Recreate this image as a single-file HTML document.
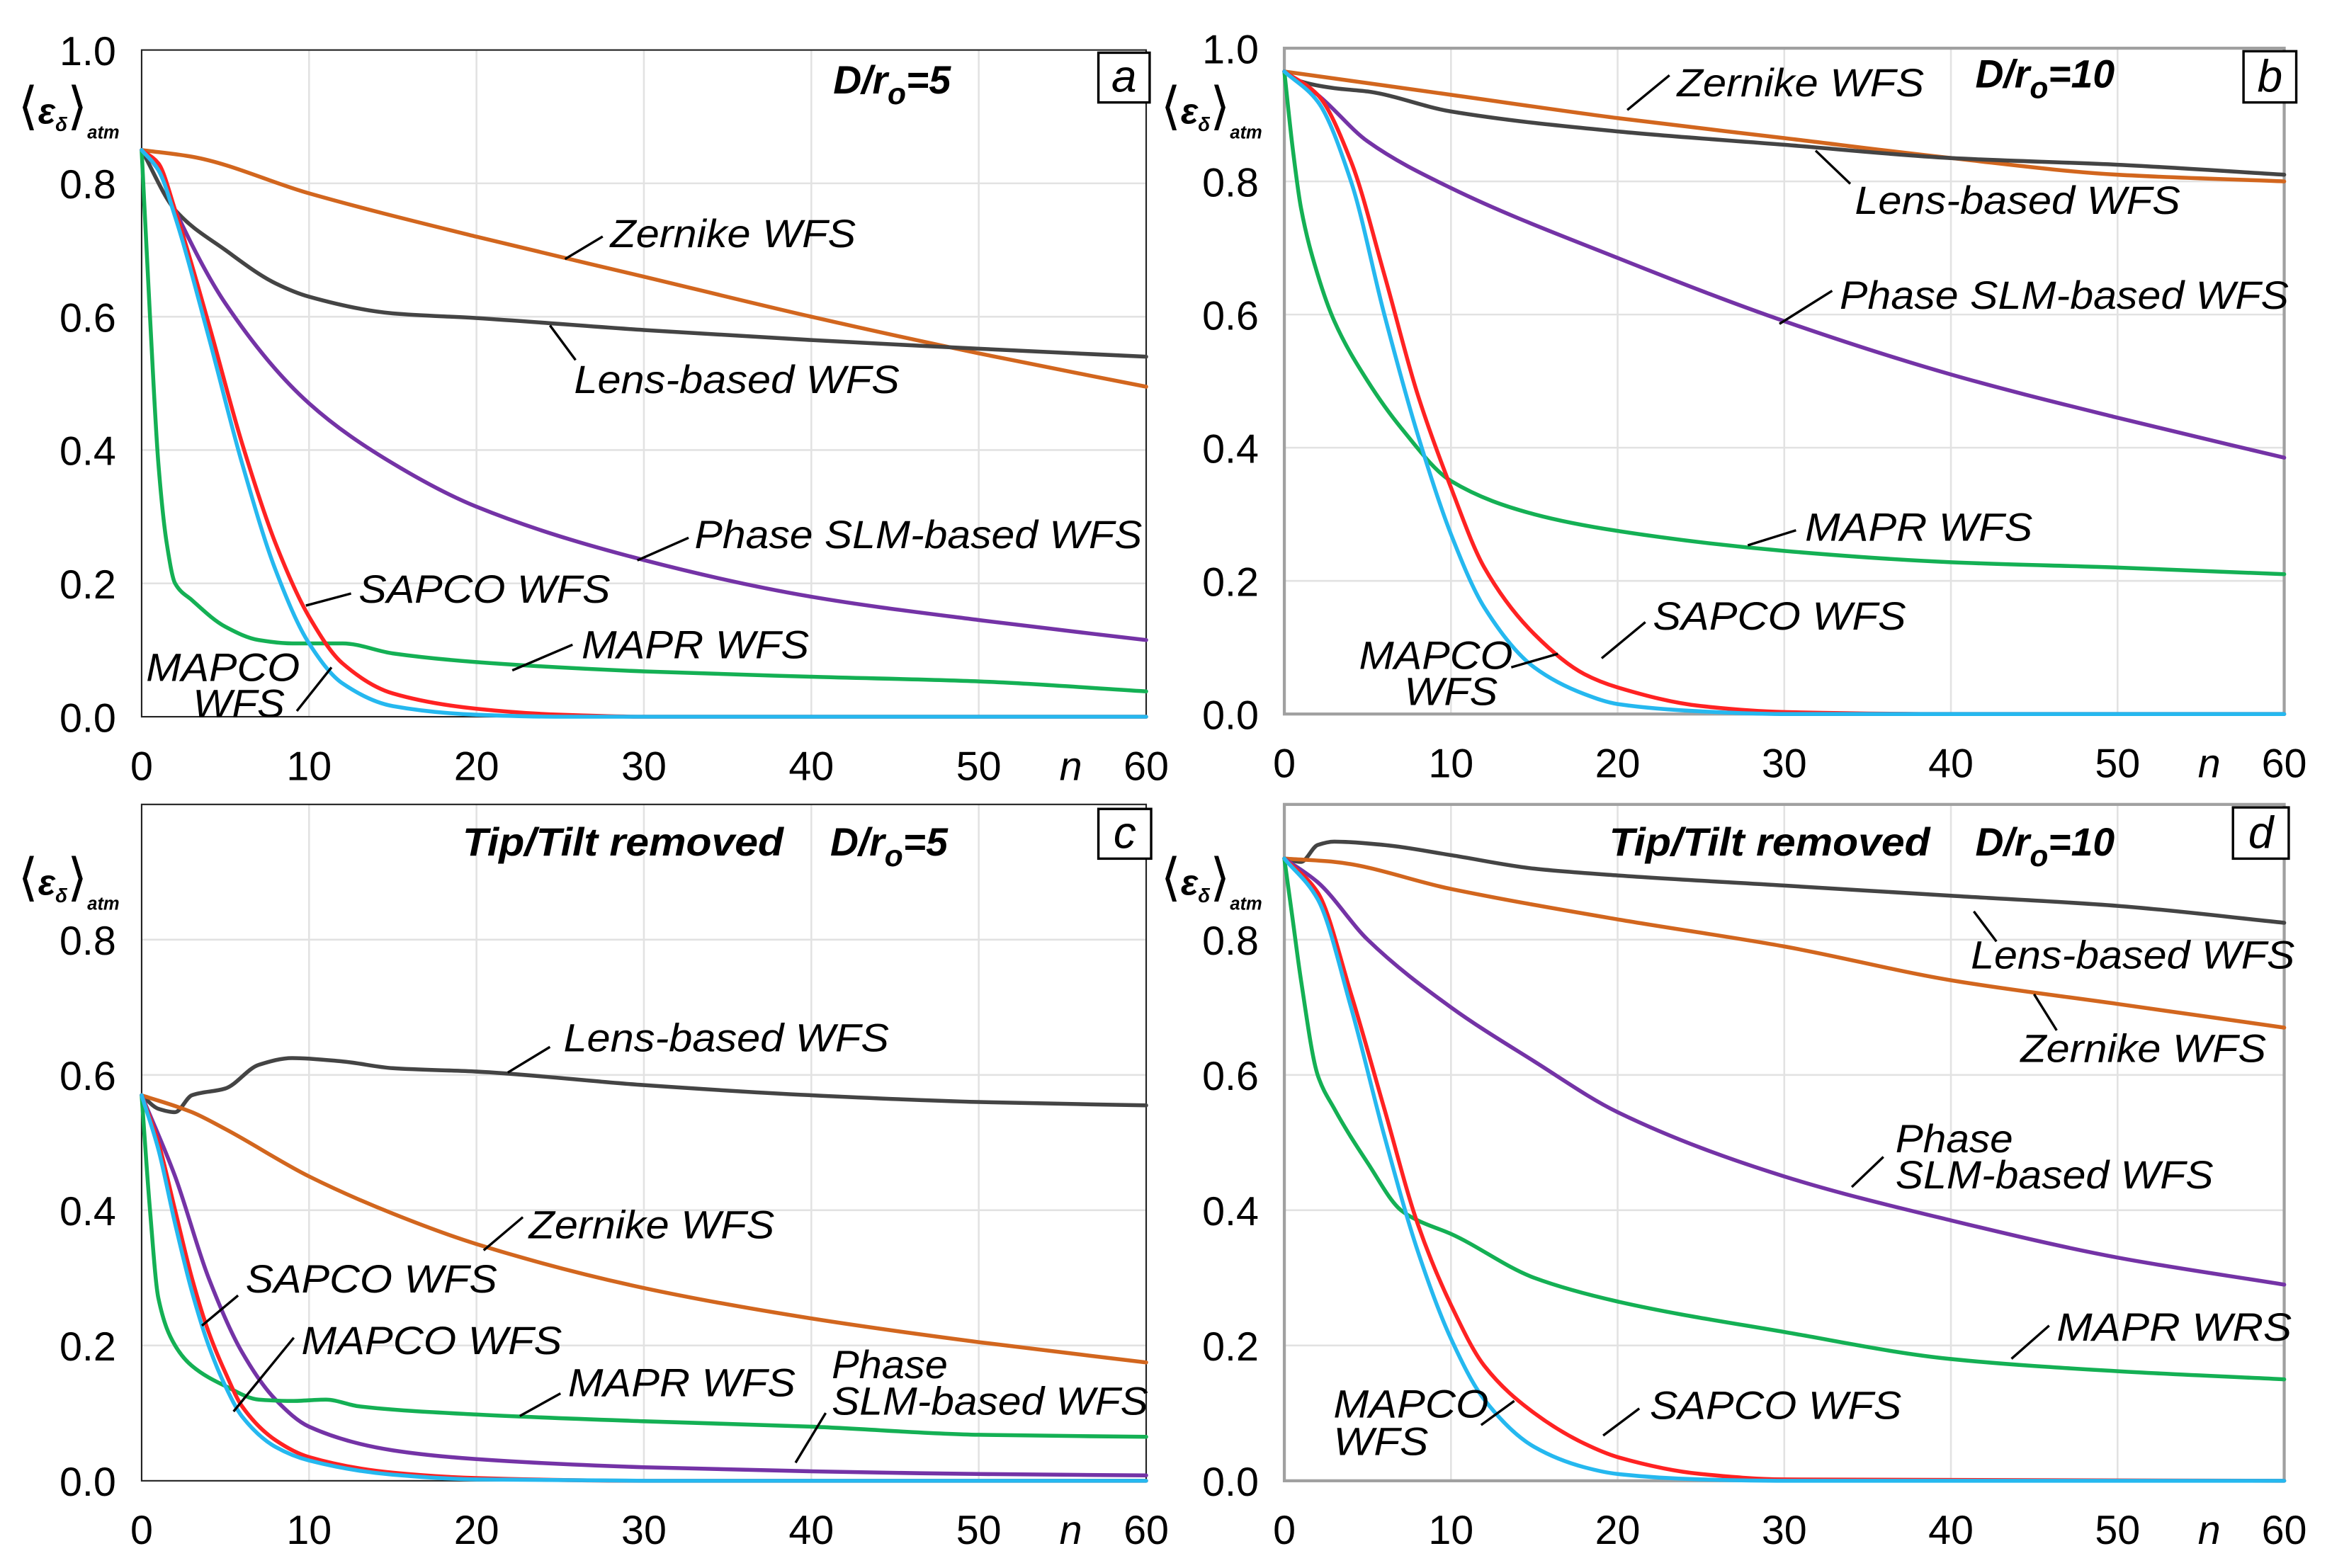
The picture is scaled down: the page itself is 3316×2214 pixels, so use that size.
<!DOCTYPE html>
<html><head><meta charset="utf-8"><title>WFS comparison</title>
<style>
html,body{margin:0;padding:0;background:#fff;}
svg{display:block;font-family:"Liberation Sans",Arial,sans-serif;}
</style></head>
<body>
<svg id="chart" xmlns="http://www.w3.org/2000/svg" width="3316" height="2214" viewBox="0 0 3316 2214">
<rect width="3316" height="2214" fill="#fff"/>
<g id="root" transform="scale(2.127)"></g>
</svg>
<script>
// ---------- data (n = iteration number, v = <eps>_atm) ----------
const xTicks = [0,10,20,30,40,50,60];
const yTicksAB = [0,0.2,0.4,0.6,0.8,1.0];
const yTicksCD = [0,0.2,0.4,0.6,0.8];

// Panel a
const aZernikeN = [0,3,10,20,30,40,50,60];
const aZernikeV = [0.85,0.84,0.785,0.72,0.66,0.60,0.545,0.495];
const aLensN = [0,2,5,8,10,15,20,30,40,50,60];
const aLensV = [0.85,0.76,0.70,0.65,0.63,0.605,0.598,0.58,0.565,0.552,0.54];
const aPhaseN = [0,1,2,5,10,15,20,30,40,50,60];
const aPhaseV = [0.85,0.82,0.76,0.62,0.47,0.38,0.315,0.235,0.18,0.145,0.115];
const aSapcoN = [0,1,2,4,6,8,10,12,15,20,25,30,60];
const aSapcoV = [0.85,0.83,0.76,0.59,0.41,0.26,0.15,0.08,0.035,0.012,0.003,0,0];
const aMapcoN = [0,1,2,4,6,8,10,12,15,20,25,60];
const aMapcoV = [0.85,0.82,0.75,0.57,0.38,0.22,0.11,0.05,0.016,0.003,0,0];
const aMaprN = [0,0.5,1,1.5,2,3,5,7,9,12,15,20,30,40,50,60];
const aMaprV = [0.85,0.6,0.38,0.26,0.2,0.175,0.135,0.115,0.11,0.11,0.095,0.082,0.068,0.06,0.053,0.038];

// Panel b
const bZernikeN = [0,10,20,30,40,50,60];
const bZernikeV = [0.965,0.93,0.895,0.865,0.835,0.81,0.8];
const bLensN = [0,1,3,5,10,20,30,40,50,60];
const bLensV = [0.965,0.95,0.94,0.935,0.905,0.875,0.855,0.835,0.825,0.81];
const bPhaseN = [0,2,5,10,20,30,40,50,60];
const bPhaseV = [0.965,0.93,0.86,0.79,0.685,0.59,0.51,0.445,0.385];
const bMaprN = [0,0.5,1,2,3,5,7,10,15,20,30,40,50,60];
const bMaprV = [0.965,0.85,0.76,0.66,0.59,0.5,0.43,0.35,0.3,0.275,0.245,0.228,0.22,0.21];
const bSapcoN = [0,2,4,6,8,10,12,15,18,20,25,30,40,60];
const bSapcoV = [0.965,0.93,0.83,0.66,0.48,0.34,0.22,0.12,0.06,0.04,0.012,0.003,0,0];
const bMapcoN = [0,2,4,6,8,10,12,15,18,20,25,30,60];
const bMapcoV = [0.965,0.92,0.8,0.6,0.42,0.27,0.16,0.07,0.03,0.015,0.004,0,0];

// Panel c
const cLensN = [0,1,2,3,5,7,9,12,15,20,30,40,50,60];
const cLensV = [0.57,0.55,0.545,0.57,0.58,0.615,0.625,0.62,0.61,0.605,0.585,0.57,0.56,0.555];
const cZernikeN = [0,3,5,10,15,20,30,40,50,60];
const cZernikeV = [0.57,0.545,0.52,0.45,0.395,0.35,0.285,0.24,0.205,0.175];
const cPhaseN = [0,2,4,6,8,10,15,20,30,40,50,60];
const cPhaseV = [0.57,0.45,0.3,0.19,0.12,0.08,0.045,0.032,0.02,0.014,0.01,0.008];
const cSapcoN = [0,1,2,3,4,5,6,8,10,15,20,30,60];
const cSapcoV = [0.57,0.5,0.4,0.3,0.22,0.16,0.11,0.06,0.035,0.012,0.004,0,0];
const cMapcoN = [0,1,2,3,4,5,6,8,10,15,20,30,60];
const cMapcoV = [0.57,0.49,0.38,0.28,0.2,0.14,0.095,0.05,0.03,0.009,0.002,0,0];
const cMaprN = [0,0.5,1,2,3,5,7,9,11,13,20,30,40,50,60];
const cMaprV = [0.57,0.4,0.27,0.2,0.17,0.14,0.12,0.118,0.12,0.11,0.098,0.088,0.08,0.068,0.065];

// Panel d
const dLensN = [0,1,2,3,6,10,15,20,30,40,50,60];
const dLensV = [0.92,0.915,0.94,0.945,0.94,0.925,0.905,0.895,0.88,0.865,0.85,0.825];
const dZernikeN = [0,3,10,20,30,40,50,60];
const dZernikeV = [0.92,0.915,0.875,0.83,0.79,0.74,0.705,0.67];
const dPhaseN = [0,2,5,10,15,20,30,40,50,60];
const dPhaseV = [0.92,0.885,0.8,0.7,0.62,0.545,0.45,0.385,0.33,0.29];
const dMaprN = [0,0.5,1,2,3,5,7,8,10,15,20,30,40,50,60];
const dMaprV = [0.92,0.83,0.74,0.6,0.55,0.47,0.4,0.385,0.365,0.3,0.265,0.22,0.18,0.162,0.15];
const dSapcoN = [0,2,4,6,8,10,12,15,18,20,25,30,60];
const dSapcoV = [0.92,0.87,0.72,0.55,0.38,0.26,0.17,0.1,0.055,0.035,0.01,0.002,0];
const dMapcoN = [0,2,4,6,8,10,12,15,18,20,25,30,60];
const dMapcoV = [0.92,0.86,0.7,0.51,0.34,0.21,0.12,0.05,0.02,0.01,0.002,0,0];

const C = {zernike:'#d2661e', lens:'#444444', phase:'#7433a6', sapco:'#ff2222', mapco:'#25b8ef', mapr:'#14b054'};

const NS = 'http://www.w3.org/2000/svg';
const root = document.getElementById('root');
function el(tag, attrs, parent){
  const e = document.createElementNS(NS, tag);
  for (const k in attrs) e.setAttribute(k, attrs[k]);
  (parent||root).appendChild(e);
  return e;
}
function monoPath(pts){
  const n = pts.length; if (n<2) return '';
  const dx=[],m=[],t=[];
  for(let i=0;i<n-1;i++){dx.push(pts[i+1][0]-pts[i][0]); m.push((pts[i+1][1]-pts[i][1])/dx[i]);}
  t[0]=m[0]; t[n-1]=m[n-2];
  for(let i=1;i<n-1;i++){ t[i] = (m[i-1]*m[i]<=0)?0:3*(dx[i-1]+dx[i])/((2*dx[i]+dx[i-1])/m[i-1]+(dx[i]+2*dx[i-1])/m[i]); }
  let d='M'+pts[0][0].toFixed(2)+','+pts[0][1].toFixed(2);
  for(let i=0;i<n-1;i++){
    const h=dx[i]/3;
    d+=' C'+(pts[i][0]+h).toFixed(2)+','+(pts[i][1]+h*t[i]).toFixed(2)+' '+(pts[i+1][0]-h).toFixed(2)+','+(pts[i+1][1]-h*t[i+1]).toFixed(2)+' '+pts[i+1][0].toFixed(2)+','+pts[i+1][1].toFixed(2);
  }
  return d;
}

function panel(id, P, yTicks, series, grayFrame){
  const g = el('g', {});
  
  
  const xs = n => P.x0 + (P.x1-P.x0)*n/60;
  const ys = v => P.yb - (P.yb-P.yt)*v;
  for (const t of xTicks.slice(1,-1)) {
    const ln = el('line', {x1:xs(t),x2:xs(t),y1:P.yt,y2:P.yb,stroke:'#e2e2e2','stroke-width':1.2}, g);
    
    
  }
  for (const t of [0.2,0.4,0.6,0.8]) {
    const ln = el('line', {x1:P.x0,x2:P.x1,y1:ys(t),y2:ys(t),stroke:'#e2e2e2','stroke-width':1.2}, g);
    
    
  }
  const fr = el('rect', {x:P.x0,y:P.yt,width:P.x1-P.x0,height:P.yb-P.yt,fill:'none',stroke:grayFrame?'#a0a0a0':'#222','stroke-width':grayFrame?2:1}, g);
  
  
  for (const t of xTicks) {
    const tx = el('text', {x:xs(t), y:P.yb+42, 'font-size':27, 'text-anchor':'middle', fill:'#000'}, g);
    tx.textContent = String(t);
    
    
  }
  const nl = el('text', {x:xs(55.5), y:P.yb+42, 'font-size':27, 'font-style':'italic', 'text-anchor':'middle'}, g);
  nl.textContent = 'n';
  
  
  for (const t of yTicks) {
    const ty = el('text', {x:P.x0-17, y:ys(t)+10, 'font-size':27, 'text-anchor':'end'}, g);
    ty.textContent = t.toFixed(1);
    
    
  }
  const yt = el('text', {x:P.x0-82, y:P.ytitle, 'font-size':30, fill:'#000'}, g);
  
  
  yt.innerHTML = '<tspan font-weight="normal" font-size="34">⟨</tspan><tspan font-weight="bold" font-style="italic" font-size="24">ε</tspan><tspan font-weight="bold" font-style="italic" font-size="13" dy="5">δ</tspan><tspan font-size="34" dy="-5">⟩</tspan><tspan font-weight="bold" font-style="italic" font-size="12" dy="10">atm</tspan>';
  for (const s of series) {
    const pts = s.n.map((n,i)=>[xs(n), ys(s.v[i])]);
    const p = el('path', {d:monoPath(pts), fill:'none', stroke:s.c, 'stroke-width':2.6, 'stroke-linejoin':'round','stroke-linecap':'round'}, g);
    
    
  }
  const bx = el('rect', {x:P.box[0], y:P.box[1], width:P.box[2], height:P.box[3], fill:'#fff', stroke:'#000', 'stroke-width':1.6}, g);
  
  
  const bl = el('text', {x:P.box[0]+P.box[2]/2, y:P.box[1]+P.box[3]-7, 'font-size':30, 'font-style':'italic','text-anchor':'middle'}, g);
  bl.textContent = id;
  
  
  return g;
}

function label(txt, x, y, x2, lead, bold){
  const t = el('text', {x:x, y:y, 'font-size':26, 'font-style':'italic', 'font-weight':bold?'bold':'normal', textLength:(x2-x), lengthAdjust:'spacingAndGlyphs'});
  t.textContent = txt;
  
  
  if (lead) {
    const l = el('line', {x1:lead[0],y1:lead[1],x2:lead[2],y2:lead[3],stroke:'#000','stroke-width':1.6});
    
    
  }
}
function dlabel(x, y, val){
  const t = el('text', {x:x, y:y, 'font-size':26, 'font-style':'italic', 'font-weight':'bold'});
  
  
  t.innerHTML = 'D/r<tspan font-size="20" dy="7">o</tspan><tspan dy="-7">='+val+'</tspan>';
}

const PA = {x0:94, x1:760.7, yt:33.2, yb:475.8, ytitle:82, box:[729,35,34,33]};
const PB = {x0:852.4, x1:1516, yt:32, yb:474, ytitle:82, box:[1489,34,35,34]};
const PC = {x0:94, x1:760.7, yt:534, yb:983, ytitle:594, box:[729,537,35,33]};
const PD = {x0:852.4, x1:1516, yt:534, yb:983, ytitle:594, box:[1482,536,37,34]};

panel('a', PA, yTicksAB, [
  {name:'zernike', n:aZernikeN, v:aZernikeV, c:C.zernike},
  {name:'lens', n:aLensN, v:aLensV, c:C.lens},
  {name:'phase', n:aPhaseN, v:aPhaseV, c:C.phase},
  {name:'mapr', n:aMaprN, v:aMaprV, c:C.mapr},
  {name:'sapco', n:aSapcoN, v:aSapcoV, c:C.sapco},
  {name:'mapco', n:aMapcoN, v:aMapcoV, c:C.mapco}], false);
panel('b', PB, yTicksAB, [
  {name:'zernike', n:bZernikeN, v:bZernikeV, c:C.zernike},
  {name:'lens', n:bLensN, v:bLensV, c:C.lens},
  {name:'phase', n:bPhaseN, v:bPhaseV, c:C.phase},
  {name:'mapr', n:bMaprN, v:bMaprV, c:C.mapr},
  {name:'sapco', n:bSapcoN, v:bSapcoV, c:C.sapco},
  {name:'mapco', n:bMapcoN, v:bMapcoV, c:C.mapco}], true);
panel('c', PC, yTicksCD, [
  {name:'lens', n:cLensN, v:cLensV, c:C.lens},
  {name:'zernike', n:cZernikeN, v:cZernikeV, c:C.zernike},
  {name:'phase', n:cPhaseN, v:cPhaseV, c:C.phase},
  {name:'mapr', n:cMaprN, v:cMaprV, c:C.mapr},
  {name:'sapco', n:cSapcoN, v:cSapcoV, c:C.sapco},
  {name:'mapco', n:cMapcoN, v:cMapcoV, c:C.mapco}], false);
panel('d', PD, yTicksCD, [
  {name:'lens', n:dLensN, v:dLensV, c:C.lens},
  {name:'zernike', n:dZernikeN, v:dZernikeV, c:C.zernike},
  {name:'phase', n:dPhaseN, v:dPhaseV, c:C.phase},
  {name:'mapr', n:dMaprN, v:dMaprV, c:C.mapr},
  {name:'sapco', n:dSapcoN, v:dSapcoV, c:C.sapco},
  {name:'mapco', n:dMapcoN, v:dMapcoV, c:C.mapco}], true);

dlabel(553, 62, '5');
label('Zernike WFS', 405, 164, 568, [375,172,400,157]);
label('Lens-based WFS', 381, 261, 597, [365,216,382,239]);
label('Phase SLM-based WFS', 461, 364, 758, [423,372,457,357]);
label('SAPCO WFS', 238, 400, 405, [203,402,233,394]);
label('MAPR WFS', 386, 437, 537, [340,445,380,428]);
label('MAPCO', 97, 452, 199);
label('WFS', 128, 476, 189, [197,472,220,443]);
dlabel(1311, 58, '10');
label('Zernike WFS', 1113, 64, 1277, [1080,73,1108,50]);
label('Lens-based WFS', 1231, 142, 1447, [1205,100,1228,122]);
label('Phase SLM-based WFS', 1221, 205, 1519, [1181,215,1216,193]);
label('MAPR WFS', 1198, 359, 1349, [1160,362,1192,352]);
label('SAPCO WFS', 1097, 418, 1265, [1063,437,1092,413]);
label('MAPCO', 902, 444, 1004);
label('WFS', 932, 468, 994, [1003,443,1034,434]);
label('Tip/Tilt removed', 307, 568, 520, null, true);
dlabel(551, 568, '5');
label('Lens-based WFS', 374, 698, 590, [337,712,365,695]);
label('Zernike WFS', 351, 822, 514, [321,830,347,808]);
label('SAPCO WFS', 163, 858, 330, [134,880,158,860]);
label('MAPCO WFS', 200, 899, 373, [155,937,195,888]);
label('MAPR WFS', 377, 927, 528, [345,940,372,925]);
label('Phase', 552, 915, 629);
label('SLM-based WFS', 552, 939, 762, [528,971,548,938]);
label('Tip/Tilt removed', 1068, 568, 1281, null, true);
dlabel(1311, 568, '10');
label('Lens-based WFS', 1308, 643, 1523, [1310,605,1325,625]);
label('Zernike WFS', 1341, 705, 1504, [1350,660,1365,684]);
label('Phase', 1258, 765, 1336);
label('SLM-based WFS', 1258, 789, 1469, [1229,788,1250,768]);
label('MAPR WRS', 1365, 890, 1521, [1335,902,1360,880]);
label('SAPCO WFS', 1095, 942, 1262, [1064,953,1088,935]);
label('MAPCO', 885, 941, 988);
label('WFS', 885, 966, 948, [983,946,1005,930]);
</script>
</body></html>
